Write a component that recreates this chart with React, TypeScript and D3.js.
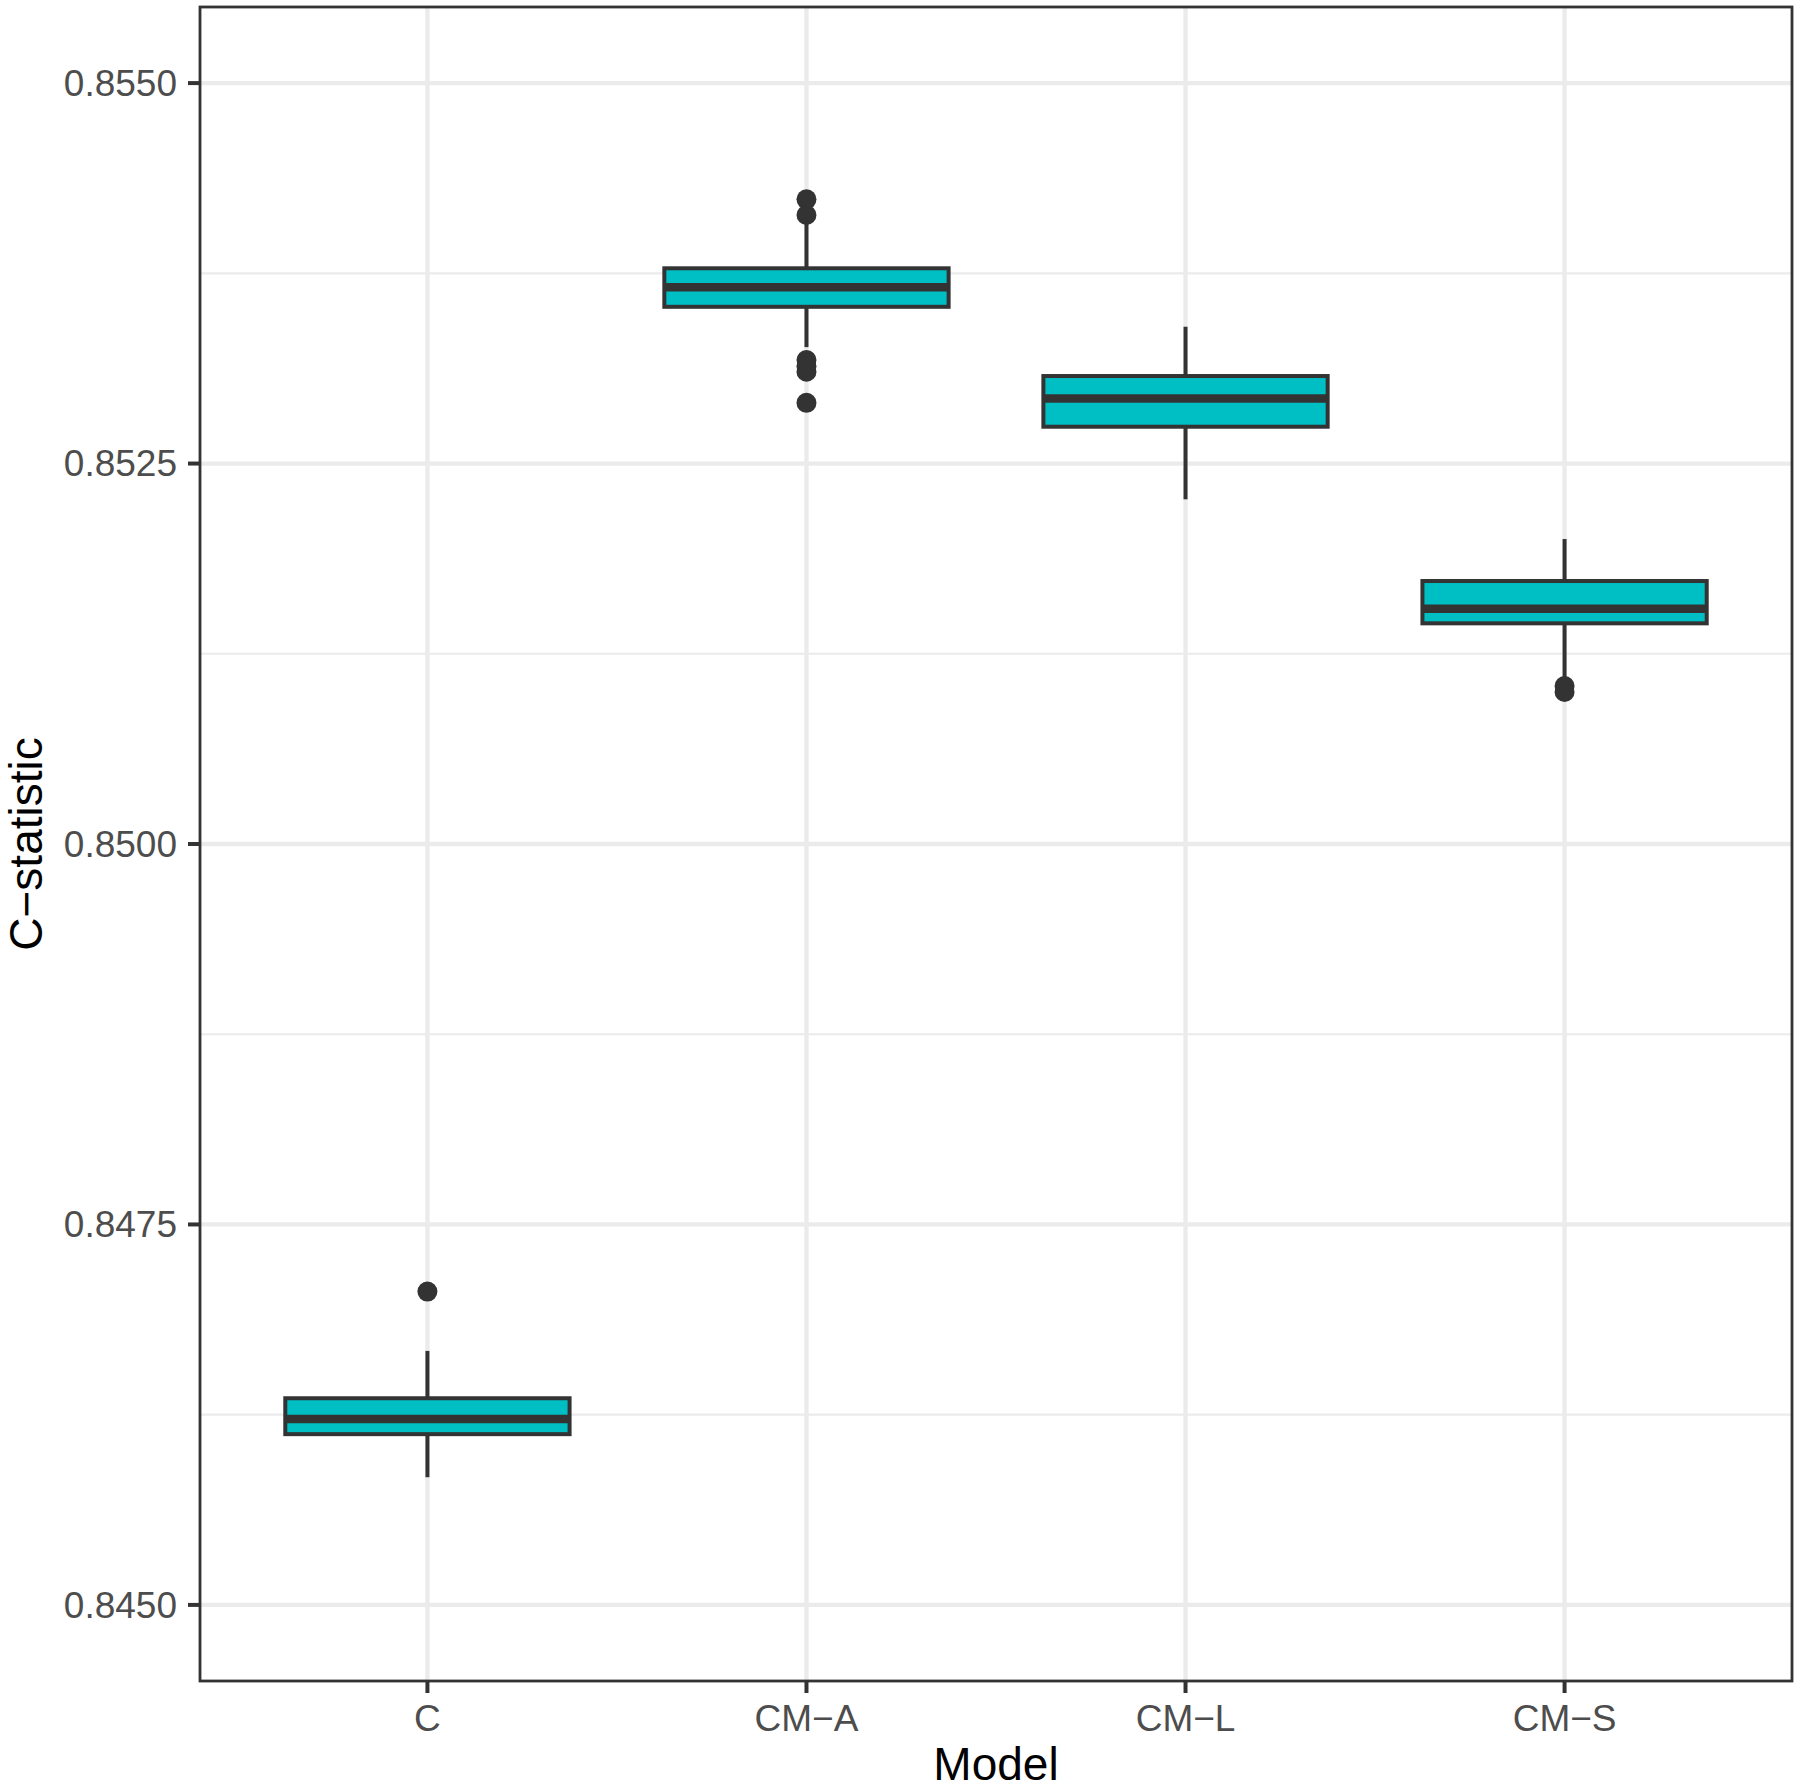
import React from "react";
import * as d3 from "d3";

const categories = ["C", "CM\u2212A", "CM\u2212L", "CM\u2212S"];
const lowerWhisker = [0.845839, 0.853265, 0.852265, 0.85106];
const q1 = [0.846122, 0.85353, 0.852742, 0.85145];
const median = [0.846222, 0.853658, 0.852928, 0.851546];
const q3 = [0.846358, 0.853783, 0.853075, 0.851728];
const upperWhisker = [0.846669, 0.8541, 0.853399, 0.852004];
const outliersC = [0.847059];
const outliersCMA = [0.854236, 0.854133, 0.85318, 0.85314, 0.853103, 0.852899];
const outliersCML: number[] = [];
const outliersCMS = [0.851038, 0.850999];
const majorTicks = [0.845, 0.8475, 0.85, 0.8525, 0.855];
const minorTicks = [0.84625, 0.84875, 0.85125, 0.85375];
const yTickLabels = ["0.8450", "0.8475", "0.8500", "0.8525", "0.8550"];

const W = 1800;
const H = 1791;
const L = 200, R = 1792, T = 7, B = 1681;
const FONT = "'Liberation Sans', Arial, Helvetica, sans-serif";
const FILL = "#00BFC4";
const DARK = "#333333";

export default function App() {
  const x = d3.scalePoint<string>().domain(categories).range([L, R]).padding(0.6);
  const y = d3.scaleLinear().domain([0.8445, 0.8555]).range([B, T]);
  const step = x.step();
  const bw = step * 0.75;
  const outliers = [outliersC, outliersCMA, outliersCML, outliersCMS];

  return (
    <svg width={W} height={H} style={{ position: "absolute", left: 0, top: 0, background: "#fff" }}>
      <rect x={0} y={0} width={W} height={H} fill="#fff" />
      {minorTicks.map((v) => (
        <line key={"mn" + v} x1={L} x2={R} y1={y(v)} y2={y(v)} stroke="#ebebeb" strokeWidth={2.2} />
      ))}
      {majorTicks.map((v) => (
        <line key={"mj" + v} x1={L} x2={R} y1={y(v)} y2={y(v)} stroke="#ebebeb" strokeWidth={4.3} />
      ))}
      {categories.map((c) => (
        <line key={"vg" + c} x1={x(c)} x2={x(c)} y1={T} y2={B} stroke="#ebebeb" strokeWidth={4.3} />
      ))}
      {categories.map((c, i) => {
        const cx = x(c) as number;
        return (
          <g key={"box" + c}>
            <line x1={cx} x2={cx} y1={y(upperWhisker[i])} y2={y(q3[i])} stroke={DARK} strokeWidth={4} />
            <line x1={cx} x2={cx} y1={y(q1[i])} y2={y(lowerWhisker[i])} stroke={DARK} strokeWidth={4} />
            <rect
              x={cx - bw / 2}
              y={y(q3[i])}
              width={bw}
              height={y(q1[i]) - y(q3[i])}
              fill={FILL}
              stroke={DARK}
              strokeWidth={4}
            />
            <line x1={cx - bw / 2} x2={cx + bw / 2} y1={y(median[i])} y2={y(median[i])} stroke={DARK} strokeWidth={8.5} />
            {outliers[i].map((v, j) => (
              <circle key={j} cx={cx} cy={y(v)} r={10} fill={DARK} />
            ))}
          </g>
        );
      })}
      <rect x={L} y={T} width={R - L} height={B - T} fill="none" stroke={DARK} strokeWidth={2.8} />
      {majorTicks.map((v, i) => (
        <g key={"yt" + v}>
          <line x1={L - 12} x2={L} y1={y(v)} y2={y(v)} stroke={DARK} strokeWidth={4} />
          <text x={177} y={y(v)} dy="0.35em" textAnchor="end" fontFamily={FONT} fontSize={37} fill="#4d4d4d">
            {yTickLabels[i]}
          </text>
        </g>
      ))}
      {categories.map((c) => (
        <g key={"xt" + c}>
          <line x1={x(c)} x2={x(c)} y1={B} y2={B + 12} stroke={DARK} strokeWidth={4} />
          <text x={x(c)} y={1731} textAnchor="middle" fontFamily={FONT} fontSize={37} fill="#4d4d4d">
            {c}
          </text>
        </g>
      ))}
      <text x={(L + R) / 2} y={1780} textAnchor="middle" fontFamily={FONT} fontSize={46} fill="#000">
        Model
      </text>
      <text
        transform={`translate(42, ${(T + B) / 2}) rotate(-90)`}
        textAnchor="middle"
        fontFamily={FONT}
        fontSize={46}
        fill="#000"
      >
        C{"\u2212"}statistic
      </text>
    </svg>
  );
}
